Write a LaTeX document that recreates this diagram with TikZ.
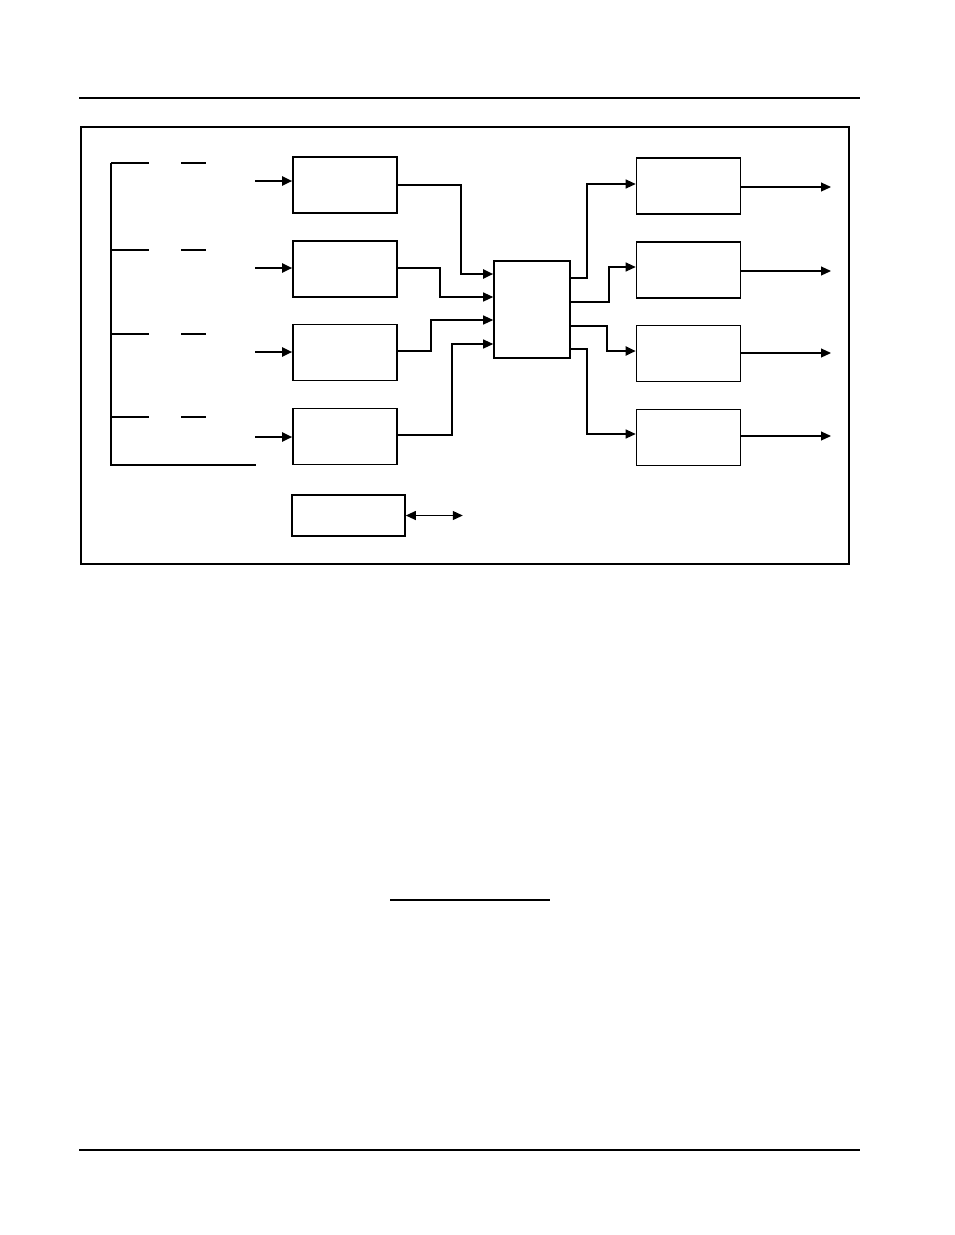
\documentclass[tikz,border=0pt]{standalone}
\usepackage{tikz}
\usetikzlibrary{arrows.meta}
\usetikzlibrary{positioning}
\tikzset{blk/.style={draw,line width=1.6pt,minimum width=104pt,minimum height=56pt,inner sep=0pt},
  heavy/.style={line width=2pt}}

\begin{document}
\begin{tikzpicture}[x=1pt,y=-1pt,>={Triangle[length=10pt,width=9pt]},line width=1.1pt]
    \useasboundingbox (0,0) rectangle (954,1235);

    \draw (79,98) -- (860,98);
    \draw (79,1150) -- (860,1150);
    \draw (390,900) -- (550,900);
    \draw[heavy] (81,127) rectangle (849,564);

    % input boxes
    \node[blk] (In1) at (345,185) {};
    \node[blk] (In2) [below=26.2pt of In1] {};
    \node[blk] (In3) [below=26.2pt of In2] {};
    \node[blk] (In4) [below=26.2pt of In3] {};
    \node[draw,line width=1.6pt,minimum width=113pt,minimum height=41pt,inner sep=0pt]
      (Ctl) at (348.5,515.5) {};
    \node[draw,line width=1.6pt,minimum width=76pt,minimum height=97pt,inner sep=0pt]
      (Mux) at (532,309.5) {};

    % output boxes
    \node[blk] (Out1) at (688.5,186) {};
    \node[blk] (Out2) [below=26.2pt of Out1] {};
    \node[blk] (Out3) [below=26.2pt of Out2] {};
    \node[blk] (Out4) [below=26.2pt of Out3] {};

    % bracket
    \draw (111,163) -- (111,465) -- (256,465);
    \foreach \y in {163,250,334,417}
      \draw (111,\y) -- (149,\y) (181,\y) -- (206,\y);

    \foreach \y/\b in {181/In1,268/In2,352/In3,437/In4}
      \draw[->,heavy] (255,\y) -- (\b.west |- 0,\y);
    \draw[<->] (Ctl.east) -- ++(57,0);

    \draw[->,heavy] (In1.east |- 0,185) -| (461,274) -- (Mux.west |- 0,274);
    \draw[->] (In2.east |- 0,268) -| (440,297) -- (Mux.west |- 0,297);
    \draw[->] (In3.east |- 0,351) -| (431,320) -- (Mux.west |- 0,320);
    \draw[->] (In4.east |- 0,435) -| (452,344) -- (Mux.west |- 0,344);

    \draw[->] (Mux.east |- 0,278) -| (587,184) -- (Out1.west |- 0,184);
    \draw[->] (Mux.east |- 0,302) -| (609,267) -- (Out2.west |- 0,267);
    \draw[->,heavy] (Mux.east |- 0,326) -| (607,351) -- (Out3.west |- 0,351);
    \draw[->] (Mux.east |- 0,349) -| (587,434) -- (Out4.west |- 0,434);

    \foreach \y/\b in {187/Out1,271/Out2,353/Out3,436/Out4}
      \draw[->] (\b.east |- 0,\y) -- (831,\y);
\end{tikzpicture}
\end{document}
